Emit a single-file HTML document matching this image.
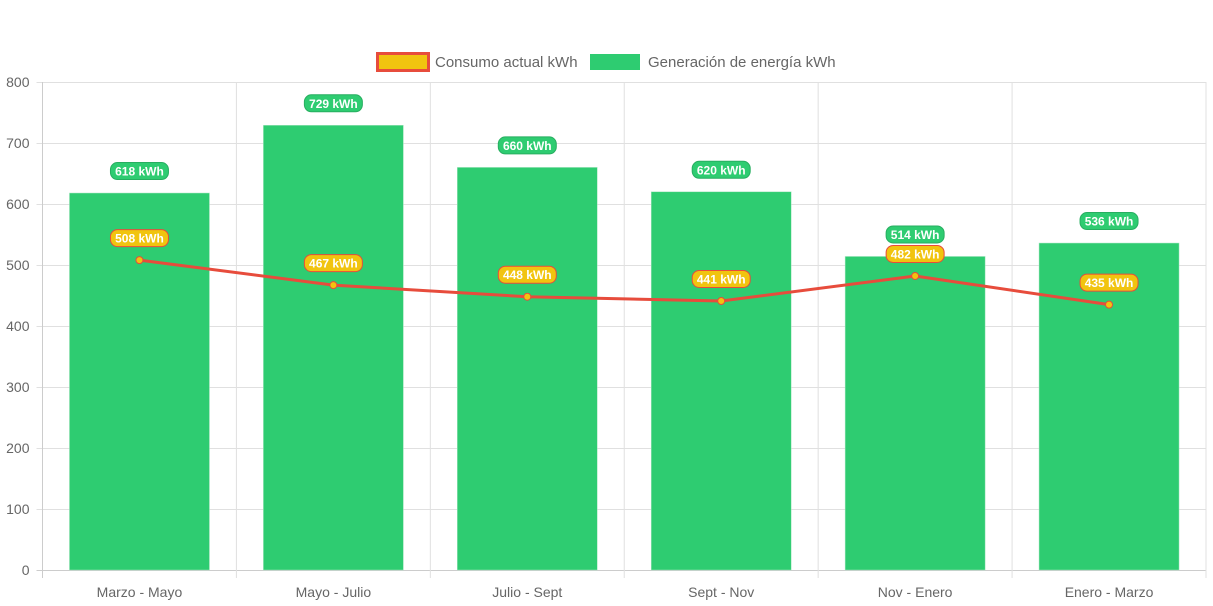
<!DOCTYPE html>
<html><head><meta charset="utf-8"><style>
body{margin:0;background:#fff;font-family:"Liberation Sans",sans-serif}
svg{display:block}
</style></head><body>
<svg id="c" width="1213" height="606">
<g>
<rect x="377.5" y="53.5" width="51" height="17" fill="#f1c40f" stroke="#e74c3c" stroke-width="3"/>
<text x="435" y="67" font-size="15" fill="#666">Consumo actual kWh</text>
<rect x="590" y="54" width="50" height="16" fill="#2ecc71"/>
<text x="648" y="67" font-size="15" fill="#666">Generación de energía kWh</text>
</g>
</svg>
<script>
const categories=["Marzo - Mayo","Mayo - Julio","Julio - Sept","Sept - Nov","Nov - Enero","Enero - Marzo"];
const generacion=[618,729,660,620,514,536];
const consumo=[508,467,448,441,482,435];
const yTicks=[0,100,200,300,400,500,600,700,800];
const svg=document.getElementById('c');const NS='http://www.w3.org/2000/svg';
const L=42.5,R=1206,T=82,B=570,yMax=800;
const cw=(R-L)/categories.length;
const y=v=>B-(v/yMax)*(B-T);
const xc=i=>L+cw*(i+0.5);
function mk(t,a,p){const e=document.createElementNS(NS,t);for(const k in a)e.setAttribute(k,a[k]);(p||svg).appendChild(e);return e;}
yTicks.forEach(v=>{
 const g=mk('line',{x1:L-6,x2:R,y1:y(v)+0.5,y2:y(v)+0.5,stroke:v===0?'#ccc':'#e0e0e0'});
 
 
 const t=mk('text',{x:L-13,y:y(v)+5,'text-anchor':'end','font-size':14,fill:'#666'});t.textContent=v;
 
 
});
for(let i=0;i<=categories.length;i++){
 const g=mk('line',{x1:L+cw*i,x2:L+cw*i,y1:T,y2:B+8,stroke:i===0?'#ccc':'#e0e0e0'});
 
 
}
categories.forEach((c,i)=>{
 const t=mk('text',{x:xc(i),y:597,'text-anchor':'middle','font-size':14,fill:'#666'});t.textContent=c;
 
 
});
const bw=140;
generacion.forEach((v,i)=>{
 const r=mk('rect',{x:xc(i)-bw/2,y:y(v),width:bw,height:B-y(v),fill:'#2ecc71',stroke:'#a8e6c1','stroke-width':0.5});
 
 
});
const pts=consumo.map((v,i)=>xc(i)+','+y(v)).join(' ');
const pl=mk('polyline',{points:pts,fill:'none',stroke:'#e74c3c','stroke-width':3,'stroke-linejoin':'round'});


consumo.forEach((v,i)=>{
 const c=mk('circle',{cx:xc(i),cy:y(v),r:3.5,fill:'#f1c40f',stroke:'#e74c3c','stroke-width':1});
 
 
});
function pill(cx,cy,txt,fill,stroke,name){
 const g=mk('g',{});
 
 
 const w=58;
 mk('rect',{x:cx-w/2,y:cy-8.5,width:w,height:17,rx:7,fill:fill,stroke:stroke,'stroke-width':1},g);
 const t=mk('text',{x:cx,y:cy+4.5,'text-anchor':'middle','font-size':12,'font-weight':'bold',fill:'#fff'},g);t.textContent=txt;
}
generacion.forEach((v,i)=>pill(xc(i),y(v)-22,v+' kWh','#2ecc71','#27ae60','label-generacion'));
consumo.forEach((v,i)=>pill(xc(i),y(v)-22,v+' kWh','#f1c40f','#e74c3c','label-consumo'));
</script>
</body></html>
